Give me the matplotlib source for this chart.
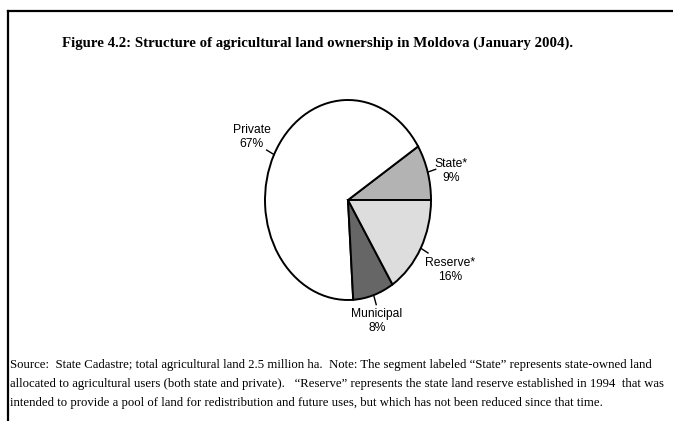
import numpy as np
import matplotlib
matplotlib.use("Agg")
import matplotlib.pyplot as plt
from matplotlib.lines import Line2D

# data (counter-clockwise from 3 o'clock)
categories = ["State*", "Private", "Municipal", "Reserve*"]
shares = [9, 67, 8, 16]
colors = ["#b3b3b3", "#ffffff", "#666666", "#dddddd"]

title = "Figure 4.2: Structure of agricultural land ownership in Moldova (January 2004)."
note_lines = [
    "Source:  State Cadastre; total agricultural land 2.5 million ha.  Note: The segment labeled \u201cState\u201d represents state-owned land",
    "allocated to agricultural users (both state and private).   \u201cReserve\u201d represents the state land reserve established in 1994  that was",
    "intended to provide a pool of land for redistribution and future uses, but which has not been reduced since that time.",
]

# label placement (label centre in pie units, relative to centre)
label_pos = [(1.24, 0.29), (-1.16, 0.63), (0.35, -1.21), (1.23, -0.70)]

W, H = 673, 421
fig = plt.figure(figsize=(W / 100, H / 100), dpi=100)

# frame (top and left edges only visible)
fig.add_artist(Line2D([8 / W, 1.0], [1 - 11 / H, 1 - 11 / H], color="black", lw=1.6))
fig.add_artist(Line2D([8 / W, 8 / W], [1 - 11 / H, 0.0], color="black", lw=1.6))

fig.text(317 / W, 1 - 43 / H, title, ha="center", va="center",
         family="Liberation Serif", fontweight="bold", fontsize=10.7)

for i, line in enumerate(note_lines):
    fig.text(10 / W, 1 - (365 + i * 19) / H, line, ha="left", va="center",
             family="Liberation Serif", fontsize=9.2)

# pie: horizontal radius 83 px, vertical radius 100 px, centre (348, 200)
cx, cy, rx, ry = 348, 200, 83, 100
ax = fig.add_axes([(cx - rx) / W, 1 - (cy + ry) / H, 2 * rx / W, 2 * ry / H])
wedges, _ = ax.pie(shares, colors=colors, startangle=0, counterclock=True,
                   wedgeprops=dict(edgecolor="black", linewidth=1.4))
ax.set_aspect("auto")
ax.set_xlim(-1, 1)
ax.set_ylim(-1, 1)
ax.axis("off")

start = 0.0
for cat, val, (lx, ly) in zip(categories, shares, label_pos):
    mid = np.deg2rad(start + val * 3.6 / 2)
    start += val * 3.6
    ex, ey = np.cos(mid), np.sin(mid)
    ax.plot([ex, ex * 1.1], [ey, ey * 1.1], color="black", lw=1.0, clip_on=False)
    ax.text(lx, ly, f"{cat}\n{val}%", ha="center", va="center", fontsize=8.7,
            family="Liberation Sans", linespacing=1.25, clip_on=False)

fig.savefig("out.png", dpi=100)
